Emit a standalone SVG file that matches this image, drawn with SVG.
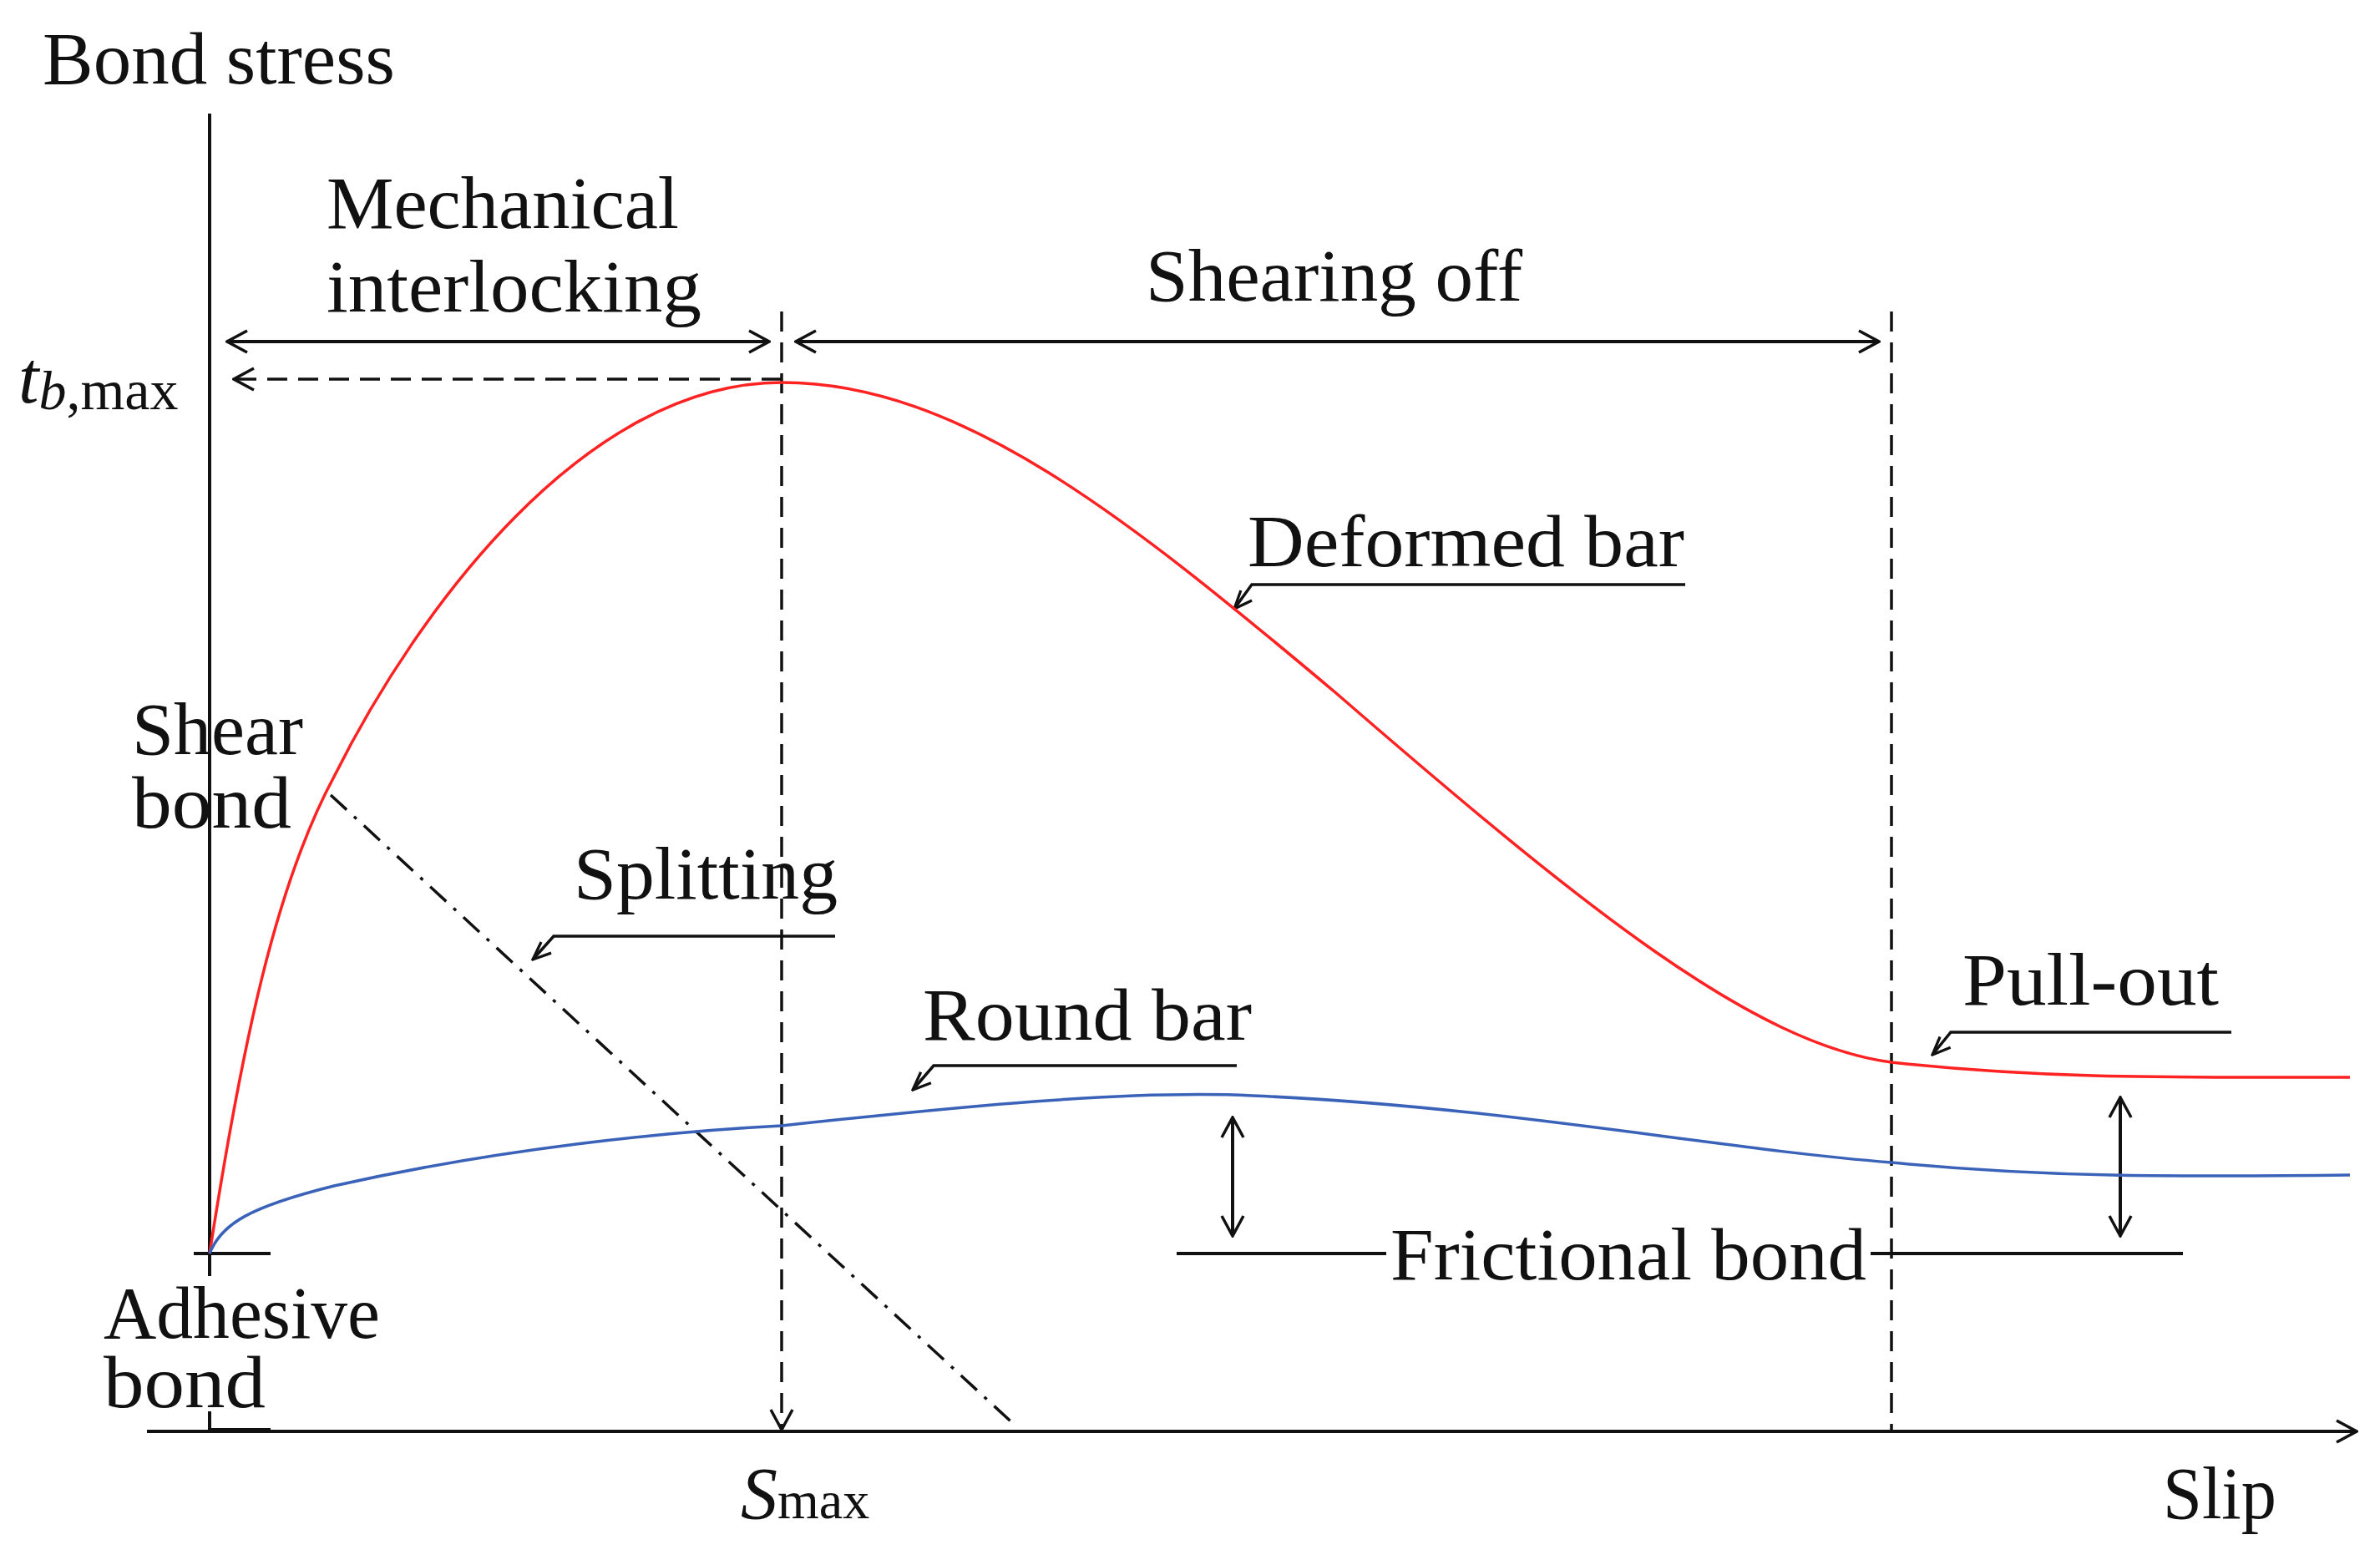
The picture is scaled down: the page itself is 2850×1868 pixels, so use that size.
<svg xmlns="http://www.w3.org/2000/svg" width="2850" height="1868" viewBox="0 0 2850 1868">
<style>
text{font-family:"Liberation Serif",serif;font-size:88px;fill:#111}
.ln{stroke:#111;stroke-width:4;fill:none}
.ds{stroke:#111;stroke-width:3.5;fill:none;stroke-dasharray:24,13}
.dd{stroke:#111;stroke-width:3.5;fill:none;stroke-dasharray:26,12,4,12}
.hd{stroke:#111;stroke-width:3.5;fill:none}
</style>
<defs>
<marker id="a" viewBox="0 0 30 30" refX="28" refY="15" markerWidth="30" markerHeight="30" markerUnits="userSpaceOnUse" orient="auto-start-reverse"><path d="M4,2 L28,15 L4,28" stroke="#111" stroke-width="3.5" fill="none"/></marker>
<marker id="h" viewBox="0 0 30 30" refX="28" refY="15" markerWidth="28" markerHeight="28" markerUnits="userSpaceOnUse" orient="auto"><path d="M6,3 L28,15 L4,22" stroke="#111" stroke-width="3.5" fill="none"/></marker>
</defs>
<rect width="2850" height="1868" fill="#fff"/>
<g id="axes">
<line class="ln" x1="251" y1="136" x2="251" y2="1501"/>
<line class="ln" x1="176" y1="1714" x2="2822" y2="1714" marker-end="url(#a)"/>
<line class="ln" x1="232" y1="1501" x2="324" y2="1501" stroke-width="6"/>
<line class="ln" x1="251" y1="1501" x2="251" y2="1528" stroke-width="9"/>
<line class="ln" x1="251" y1="1690" x2="251" y2="1714" stroke-width="9"/>
<line class="ln" x1="251" y1="1712" x2="324" y2="1712" stroke-width="7"/>
</g>
<g id="connectors">
<line class="ds" x1="936" y1="373" x2="936" y2="1712" marker-end="url(#a)"/>
<line class="ds" x1="2265" y1="373" x2="2265" y2="1714"/>
<line class="ds" x1="936" y1="454" x2="280" y2="454" marker-end="url(#a)"/>
<line class="ln" x1="272" y1="409" x2="921" y2="409" marker-start="url(#a)" marker-end="url(#a)"/>
<line class="ln" x1="953" y1="409" x2="2250" y2="409" marker-start="url(#a)" marker-end="url(#a)"/>
<line class="dd" x1="396" y1="952" x2="1218" y2="1709"/>
<line class="ln" x1="1476" y1="1338" x2="1476" y2="1480" marker-start="url(#a)" marker-end="url(#a)"/>
<line class="ln" x1="2539" y1="1314" x2="2539" y2="1480" marker-start="url(#a)" marker-end="url(#a)"/>
<polyline class="hd" points="2018,700 1499,700 1478,729" marker-end="url(#h)"/>
<polyline class="hd" points="1000,1121 663,1121 638,1149" marker-end="url(#h)"/>
<polyline class="hd" points="1481,1276 1118,1276 1093,1305" marker-end="url(#h)"/>
<polyline class="hd" points="2672,1236 2336,1236 2314,1263" marker-end="url(#h)"/>
<line class="ln" x1="1409" y1="1501" x2="1660" y2="1501"/>
<line class="ln" x1="2240" y1="1501" x2="2614" y2="1501"/>
</g>
<g id="curves">
<path d="M251,1501 C290,1250 330,1060 400,930 C500,730 700,458 936,458 C1150,458 1350,620 1600,830 C1900,1090 2100,1250 2265,1272 C2450,1292 2600,1290 2814,1290" stroke="#f22" stroke-width="3.5" fill="none"/>
<path d="M251,1501 C265,1465 300,1445 400,1420 C600,1375 800,1355 936,1348 C1150,1325 1350,1305 1500,1312 C1800,1325 2050,1375 2265,1392 C2450,1410 2600,1409 2814,1407" stroke="#3a62b8" stroke-width="3.5" fill="none"/>
</g>
<g id="labels">
<text x="51" y="100" textLength="422" lengthAdjust="spacingAndGlyphs">Bond stress</text>
<text x="391" y="273" textLength="422" lengthAdjust="spacingAndGlyphs">Mechanical</text>
<text x="391" y="373" textLength="449" lengthAdjust="spacingAndGlyphs">interlocking</text>
<text x="1372" y="360" textLength="451" lengthAdjust="spacingAndGlyphs">Shearing off</text>
<text x="22" y="482" font-style="italic" font-size="92">t<tspan font-size="66" dy="8">b</tspan><tspan font-style="normal" font-size="68">,max</tspan></text>
<text x="1494" y="678" textLength="523" lengthAdjust="spacingAndGlyphs">Deformed bar</text>
<text x="158" y="903" textLength="205" lengthAdjust="spacingAndGlyphs">Shear</text>
<text x="158" y="991" textLength="191" lengthAdjust="spacingAndGlyphs">bond</text>
<text x="687" y="1076" textLength="316" lengthAdjust="spacingAndGlyphs">Splitting</text>
<text x="1105" y="1245" textLength="394" lengthAdjust="spacingAndGlyphs">Round bar</text>
<text x="2350" y="1203" textLength="307" lengthAdjust="spacingAndGlyphs">Pull-out</text>
<text x="1665" y="1532" textLength="570" lengthAdjust="spacingAndGlyphs">Frictional bond</text>
<text x="124" y="1602" font-size="82" textLength="331" lengthAdjust="spacingAndGlyphs">Adhesive</text>
<text x="124" y="1685" font-size="82" textLength="194" lengthAdjust="spacingAndGlyphs">bond</text>
<text x="887" y="1818" font-style="italic">S<tspan font-style="normal" font-size="64">max</tspan></text>
<text x="2590" y="1818" textLength="136" lengthAdjust="spacingAndGlyphs">Slip</text>
</g>
</svg>
